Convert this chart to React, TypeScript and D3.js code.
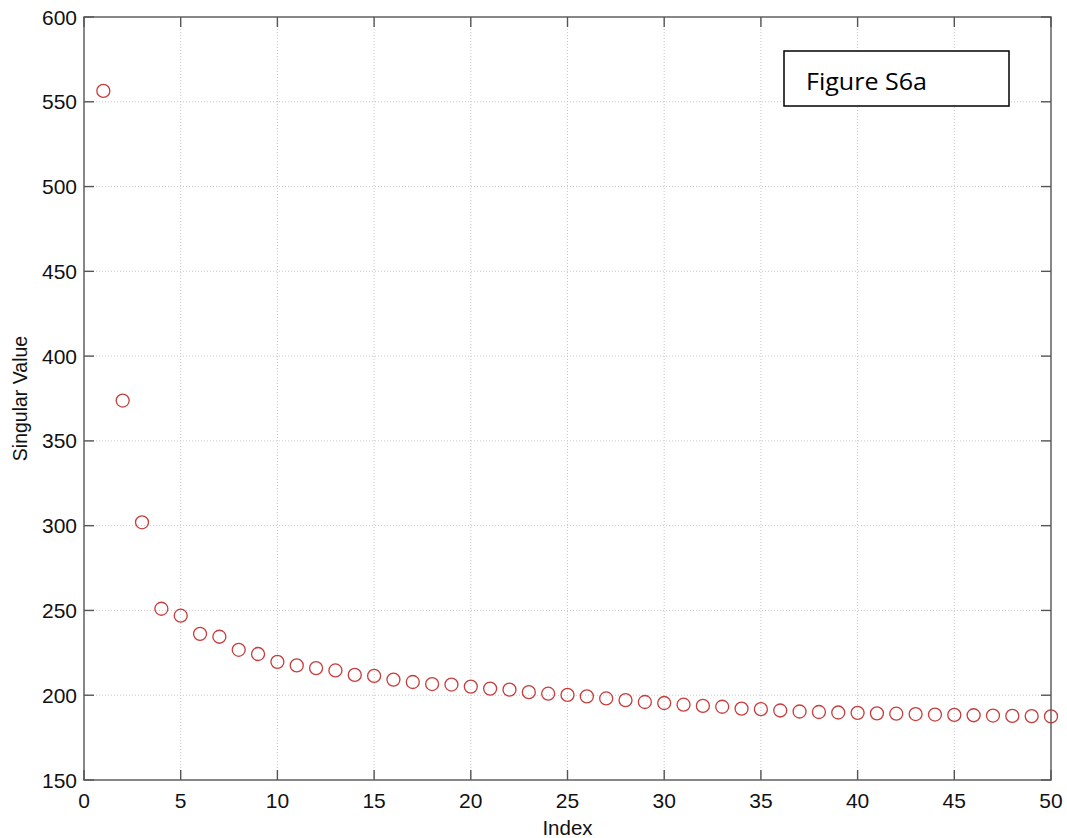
import React from "react";
import * as d3 from "d3";

// singular values, index 1..50
const indices = d3.range(1, 51);
const singularValues = [
  556.4, 373.8, 302.0, 251.0, 246.9, 236.2, 234.5, 226.8, 224.3, 219.7,
  217.6, 216.0, 214.6, 212.0, 211.4, 209.2, 207.8, 206.6, 206.3, 205.1,
  203.9, 203.3, 201.8, 200.9, 200.2, 199.3, 198.1, 197.1, 196.0, 195.4,
  194.4, 193.7, 193.2, 192.1, 191.8, 191.0, 190.4, 190.1, 189.8, 189.6,
  189.3, 189.1, 188.9, 188.6, 188.4, 188.2, 188.0, 187.8, 187.7, 187.5,
];
const xTicks = [0, 5, 10, 15, 20, 25, 30, 35, 40, 45, 50];
const yTicks = [150, 200, 250, 300, 350, 400, 450, 500, 550, 600];
const annotation = "Figure S6a";

const W = 1067;
const H = 838;
const margin = { left: 84, right: 16, top: 17, bottom: 58 };

export default function App() {
  const x = d3
    .scaleLinear()
    .domain([0, 50])
    .range([margin.left, W - margin.right]);
  const y = d3
    .scaleLinear()
    .domain([150, 600])
    .range([H - margin.bottom, margin.top]);

  const [x0, x1] = x.range();
  const [y0, y1] = y.range(); // y0 bottom, y1 top
  const tickLen = 10;
  const axisColor = "#555";
  const font = "Liberation Sans, Arial, Helvetica, sans-serif";

  return (
    <svg
      width={W}
      height={H}
      style={{ position: "absolute", left: 0, top: 0, background: "#fff" }}
    >
      <rect width={W} height={H} fill="#fff" />
      {/* grid */}
      <g stroke="#c8c8c8" strokeWidth={1} strokeDasharray="1,2">
        {xTicks.slice(1, -1).map((t) => (
          <line key={"gx" + t} x1={x(t)} x2={x(t)} y1={y0} y2={y1} />
        ))}
        {yTicks.slice(1, -1).map((t) => (
          <line key={"gy" + t} x1={x0} x2={x1} y1={y(t)} y2={y(t)} />
        ))}
      </g>

      {/* points */}
      <g fill="none" stroke="#c83c3c" strokeWidth={1.3}>
        {singularValues.map((v, i) => (
          <circle key={i} cx={x(indices[i])} cy={y(v)} r={6.5} />
        ))}
      </g>

      {/* axes box and ticks */}
      <g stroke={axisColor} strokeWidth={1.4}>
        <rect x={x0} y={y1} width={x1 - x0} height={y0 - y1} fill="none" />
        {xTicks.map((t) => (
          <g key={"tx" + t}>
            <line x1={x(t)} x2={x(t)} y1={y0} y2={y0 - tickLen} />
            <line x1={x(t)} x2={x(t)} y1={y1} y2={y1 + tickLen} />
          </g>
        ))}
        {yTicks.map((t) => (
          <g key={"ty" + t}>
            <line x1={x0} x2={x0 + tickLen} y1={y(t)} y2={y(t)} />
            <line x1={x1} x2={x1 - tickLen} y1={y(t)} y2={y(t)} />
          </g>
        ))}
      </g>

      {/* tick labels */}
      <g fontFamily={font} fontSize={21} fill="#111">
        {xTicks.map((t) => (
          <text key={"lx" + t} x={x(t)} y={y0 + 28} textAnchor="middle">
            {t}
          </text>
        ))}
        {yTicks.map((t) => (
          <text
            key={"ly" + t}
            x={x0 - 7}
            y={y(t)}
            textAnchor="end"
            dominantBaseline="central"
          >
            {t}
          </text>
        ))}
      </g>

      {/* axis titles */}
      <text
        x={(x0 + x1) / 2}
        y={y0 + 55}
        textAnchor="middle"
        fontFamily={font}
        fontSize={20.5}
        fill="#111"
      >
        Index
      </text>
      <text
        transform={`translate(27,${(y0 + y1) / 2}) rotate(-90)`}
        textAnchor="middle"
        fontFamily={font}
        fontSize={19.5}
        fill="#111"
      >
        Singular Value
      </text>

      {/* annotation box */}
      <rect
        x={784}
        y={51}
        width={225}
        height={55}
        fill="#fff"
        stroke="#000"
        strokeWidth={1.5}
      />
      <text
        x={806}
        y={90}
        fontFamily="Open Sans, Noto Sans, sans-serif"
        fontSize={24}
        fill="#000"
        textLength={121}
        lengthAdjust="spacingAndGlyphs"
      >
        {annotation}
      </text>
    </svg>
  );
}
